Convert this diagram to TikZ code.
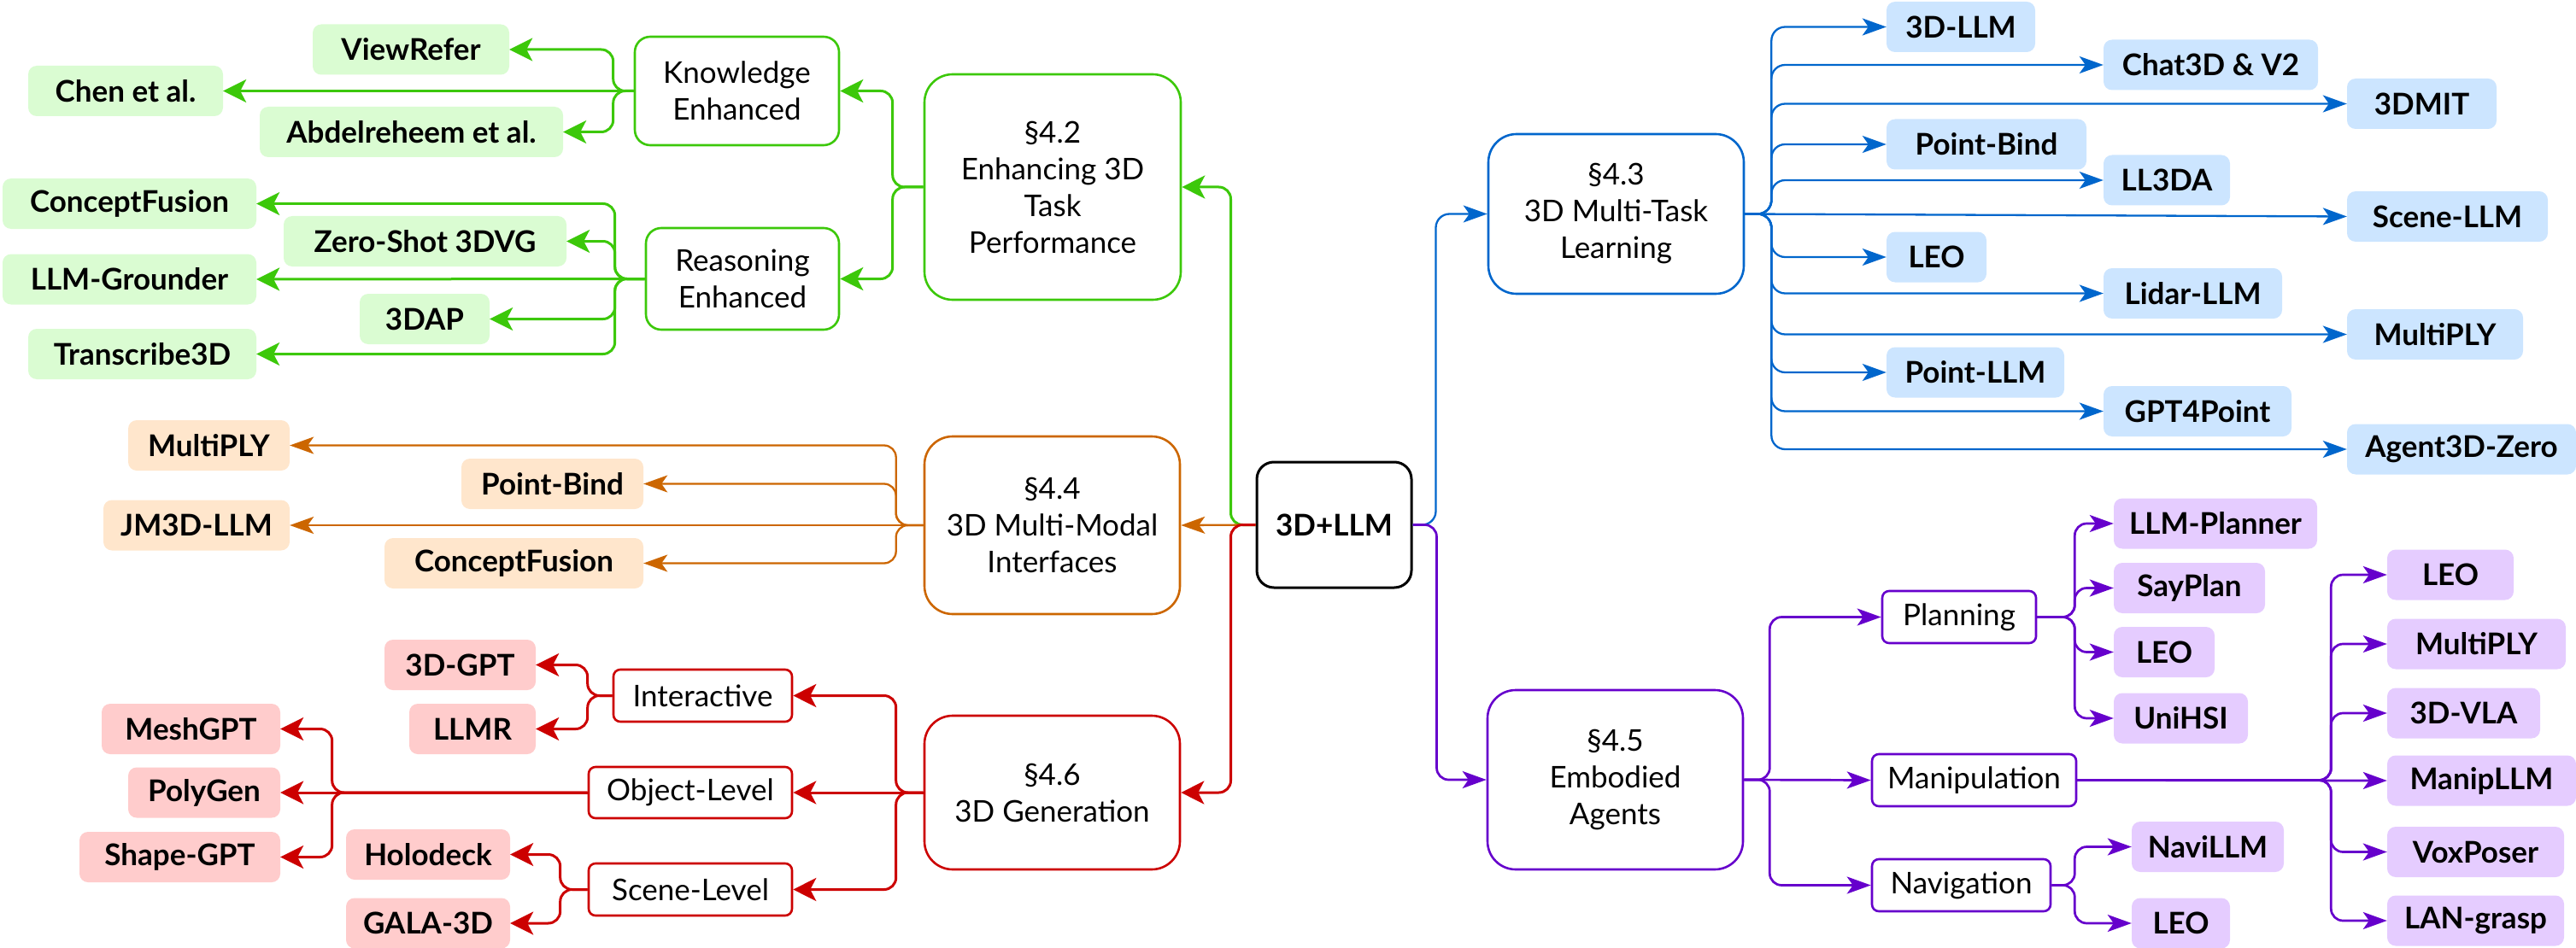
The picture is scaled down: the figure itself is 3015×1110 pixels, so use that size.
\documentclass[tikz,border=0pt]{standalone}
\usepackage{fontspec}
\setmainfont{Lato}
\usetikzlibrary{arrows.meta}
\definecolor{gL}{RGB}{60,200,10}
\definecolor{gF}{RGB}{218,252,210}
\definecolor{oL}{RGB}{204,102,0}
\definecolor{oF}{RGB}{255,230,204}
\definecolor{rL}{RGB}{204,0,0}
\definecolor{rF}{RGB}{255,204,204}
\definecolor{bL}{RGB}{0,102,204}
\definecolor{bF}{RGB}{204,229,255}
\definecolor{pL}{RGB}{102,0,204}
\definecolor{pF}{RGB}{229,204,255}
\tikzset{
  txt/.style={font=\fontsize{35}{43}\selectfont, align=center, inner sep=0pt, text=black},
  leafbox/.style={txt, font=\bfseries\fontsize{35}{43}\selectfont, rounded corners=10pt, minimum height=59pt},
  gleaf/.style={leafbox, fill=gF},
  oleaf/.style={leafbox, fill=oF},
  rleaf/.style={leafbox, fill=rF},
  bleaf/.style={leafbox, fill=bF},
  pleaf/.style={leafbox, fill=pF},
  secbox/.style={txt, draw, fill=white, line width=2.6pt, rounded corners=33pt},
  subbox/.style={txt, draw, fill=white, line width=2.6pt},
  bigtip/.style={-{Stealth[length=27pt,width=27pt,inset=7pt]}},
  smalltip/.style={-{Stealth[length=28pt,width=20pt,inset=7pt]}},
  garr/.style={draw=gL, line width=3pt, rounded corners=14pt, bigtip},
  rarr/.style={draw=rL, line width=3pt, rounded corners=14pt, bigtip},
  oarr/.style={draw=oL, line width=2.3pt, rounded corners=14pt, smalltip},
  barr/.style={draw=bL, line width=2.3pt, rounded corners=16pt, smalltip},
  parr/.style={draw=pL, line width=2.7pt, rounded corners=14pt, smalltip},
}
\begin{document}
\begin{tikzpicture}[x=1pt,y=-1pt]
\useasboundingbox (0,0) rectangle (3015,1110);
% root
\node[txt, draw=black, line width=3pt, rounded corners=20pt, font=\bfseries\fontsize{35}{43}\selectfont, minimum width=181pt, minimum height=147pt] (root) at (1561.5,614.5) {3D+LLM};

% ---------------- green (4.2)
\node[secbox, draw=gL, minimum width=300pt, minimum height=264pt] (g42) at (1232,219) {§4.2\\Enhancing 3D\\Task\\Performance};
\node[subbox, draw=gL, rounded corners=18pt, minimum width=239pt, minimum height=127pt] (gK) at (862.5,106.5) {Knowledge\\Enhanced};
\node[subbox, draw=gL, rounded corners=18pt, minimum width=226pt, minimum height=119pt] (gR) at (869,326.5) {Reasoning\\Enhanced};
\node[gleaf, minimum width=230pt] (g1) at (481,58) {ViewRefer};
\node[gleaf, minimum width=228pt] (g2) at (147,106.5) {Chen et al.};
\node[gleaf, minimum width=355pt] (g3) at (481.5,154.5) {Abdelreheem et al.};
\node[gleaf, minimum width=297pt] (g4) at (151.5,238.5) {ConceptFusion};
\node[gleaf, minimum width=331pt] (g5) at (497.5,282.5) {Zero-Shot 3DVG};
\node[gleaf, minimum width=297pt] (g6) at (151.5,327) {LLM-Grounder};
\node[gleaf, minimum width=152pt] (g7) at (497,373.5) {3DAP};
\node[gleaf, minimum width=267pt] (g8) at (166.5,414.5) {Transcribe3D};

\draw[garr] (root.west) -- ++(-29,0) |- (g42.east);
\draw[garr] (g42.west) -- ++(-36,0) |- (gK.east);
\draw[garr] (g42.west) -- ++(-36,0) |- (gR.east);
\draw[garr] (gK.west) -- ++(-24,0) |- (g1.east);
\draw[garr] (gK.west) -- (g2.east);
\draw[garr] (gK.west) -- ++(-24,0) |- (g3.east);
\draw[garr] (gR.west) -- ++(-35,0) |- (g4.east);
\draw[garr] (gR.west) -- ++(-35,0) |- (g5.east);
\draw[garr] (gR.west) -- (g6.east);
\draw[garr] (gR.west) -- ++(-35,0) |- (g7.east);
\draw[garr] (gR.west) -- ++(-35,0) |- (g8.east);

% ---------------- orange (4.4)
\node[secbox, draw=oL, minimum width=299pt, minimum height=208pt] (o44) at (1231.5,615) {§4.4\\3D Multi-Modal\\Interfaces};
\node[oleaf, minimum width=189pt] (o1) at (244.5,521.5) {MultiPLY};
\node[oleaf, minimum width=213pt] (o2) at (646.5,566.5) {Point-Bind};
\node[oleaf, minimum width=218pt] (o3) at (230,615) {JM3D-LLM};
\node[oleaf, minimum width=303pt] (o4) at (601.5,659.5) {ConceptFusion};

\draw[oarr] (root.west) -- (o44.east);
\draw[oarr] (o44.west) -- ++(-32,0) |- (o1.east);
\draw[oarr] (o44.west) -- ++(-32,0) |- (o2.east);
\draw[oarr] (o44.west) -- (o3.east);
\draw[oarr] (o44.west) -- ++(-32,0) |- (o4.east);

% ---------------- red (4.6)
\node[secbox, draw=rL, minimum width=299pt, minimum height=180pt] (r46) at (1231.5,928) {§4.6\\3D Generation};
\node[subbox, draw=rL, rounded corners=8pt, minimum width=209pt, minimum height=61pt] (rI) at (822.5,814.5) {Interactive};
\node[subbox, draw=rL, rounded corners=8pt, minimum width=238pt, minimum height=60pt] (rO) at (808,928) {Object-Level};
\node[subbox, draw=rL, rounded corners=8pt, minimum width=238pt, minimum height=61pt] (rS) at (808,1041.5) {Scene-Level};
\node[rleaf, minimum width=177pt] (r1) at (538.5,778.5) {3D-GPT};
\node[rleaf, minimum width=148pt] (r2) at (553,853.5) {LLMR};
\node[rleaf, minimum width=209pt] (r3) at (223.5,853.5) {MeshGPT};
\node[rleaf, minimum width=178pt] (r4) at (239,928) {PolyGen};
\node[rleaf, minimum width=235pt] (r5) at (210.5,1003.5) {Shape-GPT};
\node[rleaf, minimum width=192pt] (r6) at (501,1000.5) {Holodeck};
\node[rleaf, minimum width=192pt] (r7) at (501,1081) {GALA-3D};

\draw[rarr] (root.west) -- ++(-29,0) |- (r46.east);
\draw[rarr] (r46.west) -- ++(-32,0) |- (rI.east);
\draw[rarr] (r46.west) -- (rO.east);
\draw[rarr] (r46.west) -- ++(-32,0) |- (rS.east);
\draw[rarr] (rI.west) -- ++(-29,0) |- (r1.east);
\draw[rarr] (rI.west) -- ++(-29,0) |- (r2.east);
\draw[rarr] (rO.west) -- ++(-299,0) |- (r3.east);
\draw[rarr] (rO.west) -- (r4.east);
\draw[rarr] (rO.west) -- ++(-299,0) |- (r5.east);
\draw[rarr] (rS.west) -- ++(-32,0) |- (r6.east);
\draw[rarr] (rS.west) -- ++(-32,0) |- (r7.east);

% ---------------- blue (4.3)
\node[secbox, draw=bL, minimum width=299pt, minimum height=187pt] (b43) at (1891.5,250.5) {§4.3\\3D Multi-Task\\Learning};
\node[bleaf, minimum width=174pt] (b1) at (2295,31.5) {3D-LLM};
\node[bleaf, minimum width=251pt] (b2) at (2587.5,76) {Chat3D \& V2};
\node[bleaf, minimum width=175pt] (b3) at (2834.5,121.5) {3DMIT};
\node[bleaf, minimum width=234pt] (b4) at (2325,169) {Point-Bind};
\node[bleaf, minimum width=148pt] (b5) at (2536,211) {LL3DA};
\node[bleaf, minimum width=235pt] (b6) at (2864.5,253.5) {Scene-LLM};
\node[bleaf, minimum width=117pt] (b7) at (2266.5,301) {LEO};
\node[bleaf, minimum width=209pt] (b8) at (2566.5,343.5) {Lidar-LLM};
\node[bleaf, minimum width=206pt] (b9) at (2850,391.5) {MultiPLY};
\node[bleaf, minimum width=208pt] (b10) at (2312,436) {Point-LLM};
\node[bleaf, minimum width=220pt] (b11) at (2572,481.5) {GPT4Point};
\node[bleaf, minimum width=268pt] (b12) at (2881,526) {Agent3D-Zero};

\draw[barr] (root.east) -- ++(27,0) |- (b43.west);
\foreach \t in {b1,b2,b3,b4,b5,b7,b8,b9,b10,b11,b12}
  \draw[barr] (b43.east) -- ++(31,0) |- (\t.west);
\draw[barr] (b43.east) -- (b6.west);

% ---------------- purple (4.5)
\node[secbox, draw=pL, minimum width=299pt, minimum height=210pt] (p45) at (1890.5,913) {§4.5\\Embodied\\Agents};
\node[subbox, draw=pL, rounded corners=8pt, minimum width=180pt, minimum height=61pt] (pP) at (2293,722.5) {Planning};
\node[subbox, draw=pL, rounded corners=8pt, minimum width=239pt, minimum height=61pt] (pM) at (2310.5,913.5) {Manipulation};
\node[subbox, draw=pL, rounded corners=8pt, minimum width=209pt, minimum height=61pt] (pN) at (2295.5,1036.5) {Navigation};
\node[pleaf, minimum width=238pt] (p1) at (2593,613) {LLM-Planner};
\node[pleaf, minimum width=177pt] (p2) at (2562.5,688.5) {SayPlan};
\node[pleaf, minimum width=118pt] (p3) at (2533,763.5) {LEO};
\node[pleaf, minimum width=157pt] (p4) at (2552.5,841) {UniHSI};
\node[pleaf, minimum width=148pt] (p5) at (2868,673) {LEO};
\node[pleaf, minimum width=209pt] (p6) at (2898.5,754) {MultiPLY};
\node[pleaf, minimum width=179pt] (p7) at (2883.5,835) {3D-VLA};
\node[pleaf, minimum width=221pt] (p8) at (2904.5,914) {ManipLLM};
\node[pleaf, minimum width=207pt] (p9) at (2897.5,997.5) {VoxPoser};
\node[pleaf, minimum width=207pt] (p10) at (2897.5,1078) {LAN-grasp};
\node[pleaf, minimum width=178pt] (p11) at (2584,991.5) {NaviLLM};
\node[pleaf, minimum width=115pt] (p12) at (2552.5,1081) {LEO};

\draw[parr] (root.east) -- ++(28,0) |- (p45.west);
\draw[parr] (p45.east) -- ++(30,0) |- (pP.west);
\draw[parr] (p45.east) -- (pM.west);
\draw[parr] (p45.east) -- ++(30,0) |- (pN.west);
\foreach \t in {p1,p2,p3,p4}
  \draw[parr] (pP.east) -- ++(44,0) |- (\t.west);
\foreach \t in {p5,p6,p7,p9,p10}
  \draw[parr] (pM.east) -- ++(297,0) |- (\t.west);
\draw[parr] (pM.east) -- (p8.west);
\foreach \t in {p11,p12}
  \draw[parr] (pN.east) -- ++(27,0) |- (\t.west);
\end{tikzpicture}
\end{document}
